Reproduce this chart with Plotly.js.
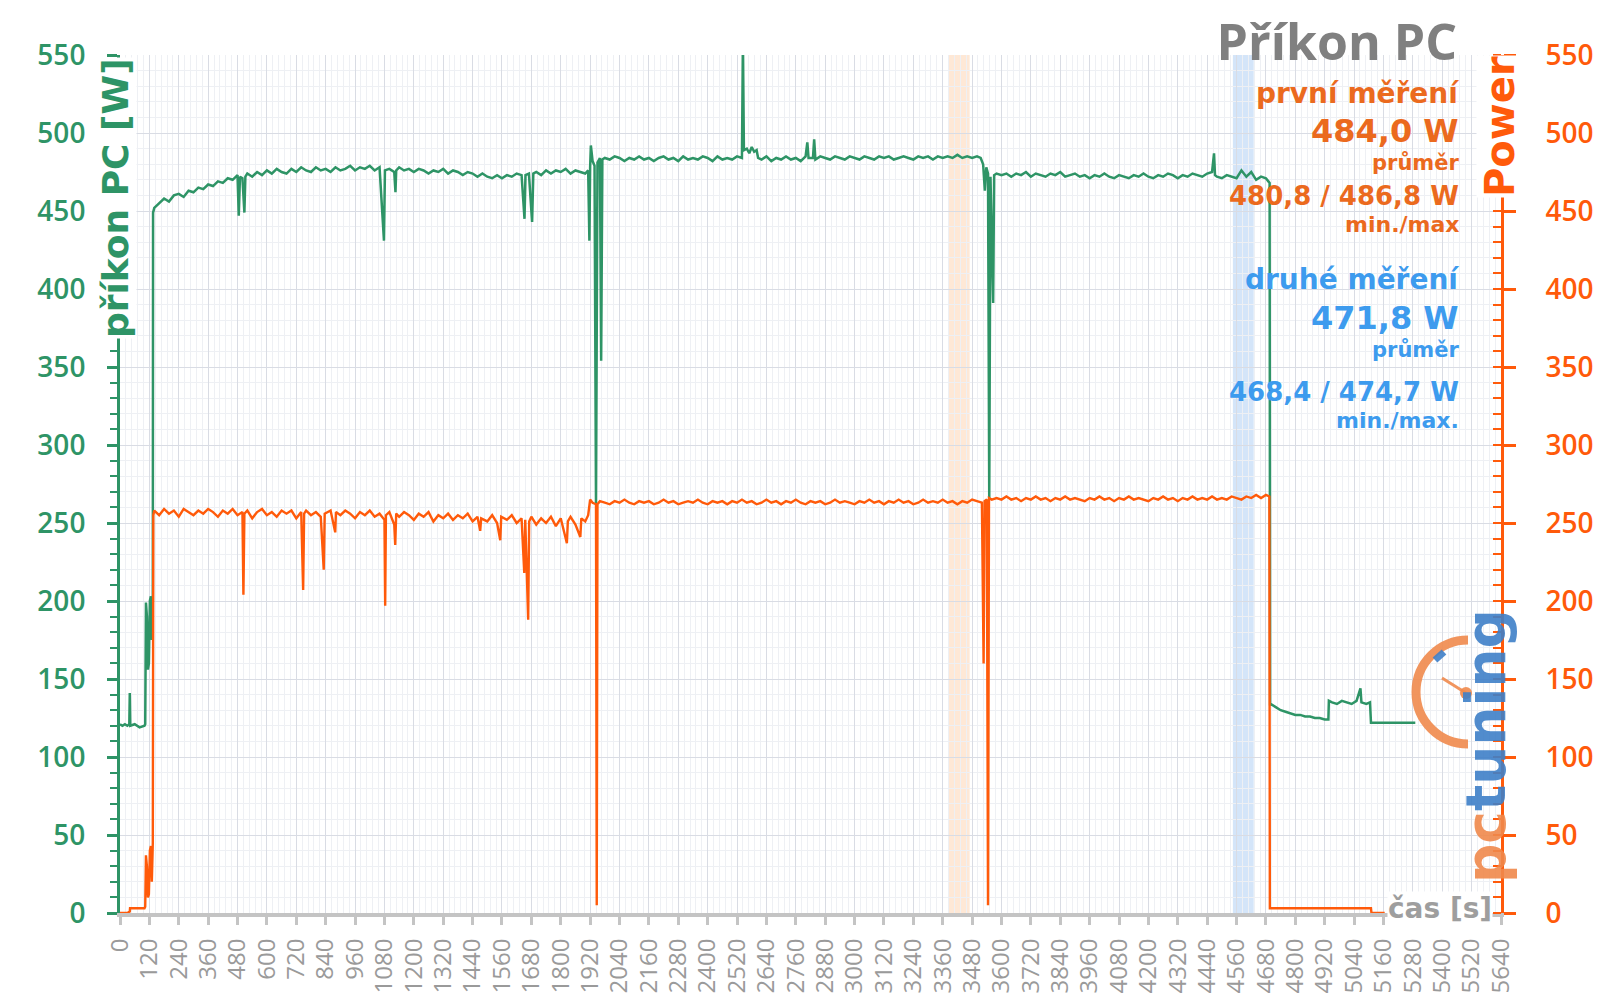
<!DOCTYPE html>
<html><head><meta charset="utf-8">
<script src="https://cdn.plot.ly/plotly-3.0.1.min.js"></script>
<style>html,body{margin:0;padding:0;background:#fff}#chart{width:1600px;height:1008px}</style>
</head><body><div id="chart"></div>
<script>
// ---- data: příkon PC (left axis, W) ----
const greenTime = [
  0,10,20,30,38,40,42,60,80,100,
  103,106,110,114,118,122,126,130,134,135,
  140,160,180,200,220,240,260,280,300,320,
  340,360,380,400,420,440,460,480,485,490,
  500,508,512,520,540,560,580,600,620,640,
  660,680,700,720,740,760,780,800,820,840,
  860,880,900,920,940,960,980,1000,1020,1040,
  1060,1078,1082,1100,1120,1125,1128,1140,1160,1180,
  1200,1220,1240,1260,1280,1300,1320,1340,1360,1380,
  1400,1420,1440,1460,1480,1500,1520,1540,1560,1580,
  1600,1620,1640,1652,1656,1670,1683,1688,1700,1720,
  1740,1760,1780,1800,1820,1840,1860,1880,1900,1912,
  1917,1920,1923,1930,1938,1944,1950,1960,1965,1970,
  1980,2000,2020,2040,2060,2080,2100,2120,2140,2160,
  2180,2200,2220,2240,2260,2280,2300,2320,2340,2360,
  2380,2400,2420,2440,2460,2480,2500,2520,2540,2544,
  2548,2560,2570,2580,2590,2600,2606,2620,2640,2660,
  2680,2700,2720,2740,2760,2780,2800,2807,2812,2830,
  2835,2840,2860,2880,2900,2920,2940,2960,2980,3000,
  3020,3040,3060,3080,3100,3120,3140,3160,3180,3200,
  3220,3240,3260,3280,3300,3320,3340,3360,3380,3400,
  3420,3440,3460,3480,3500,3515,3525,3532,3538,3545,
  3550,3555,3566,3570,3580,3600,3620,3640,3660,3680,
  3700,3720,3740,3760,3780,3800,3820,3840,3860,3880,
  3900,3920,3940,3960,3980,4000,4020,4040,4060,4080,
  4100,4120,4140,4160,4180,4200,4220,4240,4260,4280,
  4300,4320,4340,4360,4380,4400,4420,4440,4460,4468,
  4472,4480,4500,4520,4540,4560,4580,4600,4620,4640,
  4660,4680,4690,4695,4697,4700,4720,4740,4760,4780,
  4800,4820,4840,4860,4880,4900,4920,4935,4937,4950,
  4970,4990,5010,5030,5050,5066,5070,5090,5105,5109,
  5290
];
const greenPower = [
  121,120,121,120,121,141,120,121,119,120,
  121,199,190,156,160,200,203,175,200,449,
  452,455,458,456,460,461,459,463,462,465,
  464,467,466,469,468,471,470,473,447,472,
  471,449,472,474,472,475,473,476,474,477,
  475,474,477,475,478,476,475,478,476,477,
  475,478,476,477,479,476,478,477,479,476,
  478,431,476,477,475,462,476,478,476,477,
  475,477,476,474,476,475,477,474,476,475,
  473,475,474,472,474,472,471,473,471,473,
  472,474,473,445,473,474,443,474,475,473,
  476,474,476,475,477,474,476,475,474,476,
  431,478,492,482,479,262,481,484,354,483,
  484,483,485,484,482,484,483,485,483,484,
  482,484,485,483,484,482,485,483,484,483,
  485,484,482,485,483,484,483,485,484,560,
  489,490,487,491,488,489,484,483,485,482,
  484,483,485,483,484,482,485,494,484,484,
  496,483,485,484,483,485,484,483,485,484,
  483,485,484,483,485,484,485,483,484,485,
  484,483,485,484,485,483,485,484,485,484,
  486,484,485,484,485,484,480,463,478,474,
  265,472,391,473,474,473,474,472,474,473,
  475,472,474,473,472,474,473,475,472,473,
  474,472,473,471,473,472,474,472,471,473,
  472,471,473,472,474,472,471,473,472,474,
  473,471,473,472,474,473,472,474,475,487,
  473,472,471,473,472,471,476,472,475,470,
  472,471,469,468,133,134,132,130,129,128,
  127,127,126,126,125,125,124,124,136,135,
  134,136,135,134,136,144,135,134,135,122,
  122
];

// ---- data: Power (right axis, W) ----
const orangeTime = [
  0,30,40,41,60,80,100,103,106,110,
  114,118,122,126,130,134,136,140,160,180,
  200,220,240,260,280,300,320,340,360,380,
  400,420,440,460,480,500,504,508,520,540,
  560,580,600,620,640,660,680,700,720,740,
  748,752,760,780,800,820,832,836,860,879,
  882,900,920,940,960,980,1000,1020,1040,1060,
  1080,1083,1086,1100,1120,1124,1128,1140,1160,1180,
  1200,1220,1240,1260,1280,1300,1320,1340,1360,1380,
  1400,1420,1440,1460,1471,1475,1500,1520,1540,1553,
  1557,1580,1600,1620,1640,1651,1655,1667,1671,1680,
  1700,1720,1740,1760,1780,1800,1825,1829,1840,1860,
  1880,1884,1900,1912,1920,1930,1944,1947,1950,1960,
  1980,2000,2020,2040,2060,2080,2100,2120,2140,2160,
  2180,2200,2220,2240,2260,2280,2300,2320,2340,2360,
  2380,2400,2420,2440,2460,2480,2500,2520,2540,2560,
  2580,2600,2620,2640,2660,2680,2700,2720,2740,2760,
  2780,2800,2820,2840,2860,2880,2900,2920,2940,2960,
  2980,3000,3020,3040,3060,3080,3100,3120,3140,3160,
  3180,3200,3220,3240,3260,3280,3300,3320,3340,3360,
  3380,3400,3420,3440,3460,3480,3500,3520,3527,3531,
  3540,3545,3549,3560,3580,3600,3620,3640,3660,3680,
  3700,3720,3740,3760,3780,3800,3820,3840,3860,3880,
  3900,3920,3940,3960,3980,4000,4020,4040,4060,4080,
  4100,4120,4140,4160,4180,4200,4220,4240,4260,4280,
  4300,4320,4340,4360,4380,4400,4420,4440,4460,4480,
  4500,4520,4540,4560,4580,4600,4620,4640,4660,4680,
  4694,4696,4720,4800,4900,5000,5109,5111,5165
];
const orangePower = [
  0,0,1,3,3,3,3,4,37,30,
  10,12,40,43,20,45,255,258,255,259,
  256,258,254,259,257,255,258,256,259,257,
  254,258,256,259,255,257,204,256,258,253,
  257,259,255,257,254,258,256,258,253,257,
  207,256,258,255,257,254,220,256,258,244,
  257,255,258,256,253,257,255,258,254,256,
  252,197,255,257,249,236,256,254,257,255,
  252,256,254,257,251,255,253,256,252,255,
  253,256,251,254,245,253,251,255,250,239,
  254,252,255,250,253,218,252,188,251,254,
  249,253,250,254,248,253,237,251,254,249,
  241,253,251,255,265,263,262,5,262,264,
  263,262,264,263,265,263,262,264,263,264,
  262,263,265,263,264,262,263,264,263,265,
  263,262,264,263,264,262,264,263,265,263,
  264,262,263,265,263,264,262,264,263,265,
  263,262,264,263,264,262,263,265,263,264,
  263,262,264,263,265,263,264,262,264,263,
  265,263,264,262,263,265,263,264,263,265,
  263,264,262,264,263,265,264,263,160,264,
  265,5,266,265,266,265,267,265,266,264,
  266,265,267,265,266,264,266,265,267,265,
  266,265,264,266,265,267,265,266,264,266,
  265,267,265,266,265,264,266,265,267,265,
  266,264,266,265,267,265,266,265,267,265,
  266,265,267,266,265,267,266,268,266,268,
  267,3,3,3,3,3,3,0,0
];

// highlighted intervals (s)
const bandStart = [3385, 4545];
const bandEnd   = [3470, 4630];

// text blocks
const chartTitle = 'Příkon PC';
const leftAxisTitle = 'příkon PC [W]';
const rightAxisTitle = 'Power';
const xAxisTitle = 'čas [s]';
const firstRunTexts  = ['první měření', '484,0 W', 'průměr', '480,8 / 486,8 W', 'min./max'];
const secondRunTexts = ['druhé měření', '471,8 W', 'průměr', '468,4 / 474,7 W', 'min./max.'];

// ---- styles ----
const GREEN = '#2e9466';
const ORANGE = '#ff5a0a';
const ORANGE_TXT = '#eb6a1e';
const BLUE_TXT = '#3d9bee';
const GRID = '#d9dce4';
const GRID_MINOR = '#eef0f4';
const FONT = 'Open Sans, sans-serif';
const TFONT = 'DejaVu Sans, sans-serif';

const traces = [
  {x: greenTime, y: greenPower, type: 'scatter', mode: 'lines', yaxis: 'y',
   line: {color: GREEN, width: 2.5}, hoverinfo: 'skip'},
  {x: orangeTime, y: orangePower, type: 'scatter', mode: 'lines', yaxis: 'y2',
   line: {color: ORANGE, width: 2.4}, hoverinfo: 'skip'}
];

// paper helpers from pixel positions (plot area 120..1501 x 55..913)
const PX = p => (p - 120) / 1381;
const PY = p => (913 - p) / 858;

const firstSizes  = [28, 32, 21, 26, 22];
const secondSizes = [28, 32, 21, 26, 22];
const firstY  = [94, 131, 163, 196, 224];
const secondY = [280, 318, 350, 392, 420];

const annotations = [];
firstRunTexts.forEach((t, i) => annotations.push({
  text: t, xref: 'paper', yref: 'paper', x: PX(1460), y: PY(firstY[i]),
  xanchor: 'right', yanchor: 'middle', showarrow: false, borderpad: 0,
  font: {family: TFONT, size: firstSizes[i], color: ORANGE_TXT, weight: 700}
}));
secondRunTexts.forEach((t, i) => annotations.push({
  text: t, xref: 'paper', yref: 'paper', x: PX(1460), y: PY(secondY[i]),
  xanchor: 'right', yanchor: 'middle', showarrow: false, borderpad: 0,
  font: {family: TFONT, size: secondSizes[i], color: BLUE_TXT, weight: 700}
}));
annotations.push({
  text: leftAxisTitle, xref: 'paper', yref: 'paper', x: PX(116), y: PY(198),
  textangle: -90, xanchor: 'center', yanchor: 'middle', showarrow: false,
  bgcolor: '#ffffff', borderpad: 0,
  font: {family: TFONT, size: 36, color: GREEN, weight: 700}
});
annotations.push({
  text: rightAxisTitle, xref: 'paper', yref: 'paper', x: PX(1500), y: PY(127),
  textangle: -90, xanchor: 'center', yanchor: 'middle', showarrow: false,
  bgcolor: '#ffffff', borderpad: 0,
  font: {family: TFONT, size: 40, color: ORANGE, weight: 700}
});
annotations.push({
  text: xAxisTitle, xref: 'paper', yref: 'paper', x: PX(1440), y: PY(908),
  xanchor: 'center', yanchor: 'middle', showarrow: false,
  bgcolor: '#ffffff', borderpad: 0,
  font: {family: TFONT, size: 28, color: '#9e9e9e', weight: 700}
});
// watermark logo text
annotations.push({
  text: '<span style="color:#f0894c">pc</span><span style="color:#3f80c8">tuning</span>',
  xref: 'paper', yref: 'paper', x: PX(1486), y: PY(746),
  textangle: -90, xanchor: 'center', yanchor: 'middle', showarrow: false, opacity: 0.9,
  borderpad: 0,
  font: {family: TFONT, size: 55, weight: 700}
});

const shapes = bandStart.map((s, i) => ({
  type: 'rect', xref: 'x', yref: 'paper', x0: s, x1: bandEnd[i], y0: 0, y1: 1,
  fillcolor: i === 0 ? 'rgba(252,205,165,0.45)' : 'rgba(160,198,242,0.45)',
  line: {width: 0}, layer: 'below'
}));
// watermark gauge
shapes.push({
  type: 'path', xref: 'paper', yref: 'paper',
  path: `M ${PX(1468)},${PY(640)} C ${PX(1439.3)},${PY(640)} ${PX(1416)},${PY(663.3)} ${PX(1416)},${PY(692)} C ${PX(1416)},${PY(720.7)} ${PX(1439.3)},${PY(744)} ${PX(1468)},${PY(744)}`,
  line: {color: 'rgba(240,137,76,0.9)', width: 9}
});
shapes.push({
  type: 'line', xref: 'paper', yref: 'paper',
  x0: PX(1435), y0: PY(660), x1: PX(1444), y1: PY(652),
  line: {color: 'rgba(63,128,200,0.9)', width: 7}
});
shapes.push({
  type: 'line', xref: 'paper', yref: 'paper',
  x0: PX(1466), y0: PY(693), x1: PX(1442), y1: PY(678),
  line: {color: 'rgba(240,137,76,0.9)', width: 3}
});
shapes.push({
  type: 'circle', xref: 'paper', yref: 'paper',
  x0: PX(1460), y0: PY(699), x1: PX(1472), y1: PY(687),
  fillcolor: 'rgba(240,137,76,0.9)', line: {width: 0}
});

const layout = {
  width: 1600, height: 1008,
  margin: {l: 120, r: 99, t: 55, b: 95},
  paper_bgcolor: '#ffffff', plot_bgcolor: '#ffffff',
  showlegend: false, hovermode: false,
  font: {family: FONT},
  title: {text: chartTitle, xref: 'paper', x: PX(1457), xanchor: 'right',
          yref: 'container', y: 1 - 42 / 1008, yanchor: 'middle',
          font: {family: FONT, size: 50, color: '#808080', weight: 700}},
  xaxis: {
    range: [0, 5640], tick0: 0, dtick: 120, tickangle: -90,
    ticks: 'outside', ticklen: 8, tickwidth: 3, tickcolor: '#c4c4c4',
    showline: true, linecolor: '#c4c4c4', linewidth: 4,
    showgrid: true, gridcolor: GRID, gridwidth: 1,
    minor: {dtick: 24, showgrid: true, gridcolor: GRID_MINOR, gridwidth: 1},
    zeroline: false, fixedrange: true, ticklabelstandoff: 4,
    tickfont: {family: FONT, size: 24, color: '#9a9a9a'}
  },
  yaxis: {
    range: [0, 550], tick0: 0, dtick: 50,
    ticks: 'outside', ticklen: 10, tickwidth: 3, tickcolor: GREEN,
    showline: true, linecolor: GREEN, linewidth: 3,
    showgrid: true, gridcolor: GRID, gridwidth: 1,
    minor: {dtick: 10, ticks: 'outside', ticklen: 7, tickwidth: 2, tickcolor: GREEN,
            showgrid: true, gridcolor: GRID_MINOR},
    zeroline: false, fixedrange: true, ticklabelstandoff: 16,
    tickfont: {family: FONT, size: 28, color: GREEN, weight: 600}
  },
  yaxis2: {
    overlaying: 'y', side: 'right', range: [0, 550], tick0: 0, dtick: 50,
    ticks: 'outside', ticklen: 12, tickwidth: 3, tickcolor: ORANGE,
    showline: true, linecolor: ORANGE, linewidth: 3, showgrid: false,
    minor: {dtick: 10, ticks: 'inside', ticklen: 8, tickwidth: 2, tickcolor: ORANGE},
    zeroline: false, fixedrange: true, ticklabelstandoff: 24,
    tickfont: {family: FONT, size: 28, color: ORANGE, weight: 600}
  },
  yaxis3: {
    overlaying: 'y', side: 'left', range: [0, 550], tick0: 0, dtick: 50,
    ticks: 'inside', ticklen: 10, tickwidth: 3, tickcolor: GREEN,
    showticklabels: false, showgrid: false, showline: false, zeroline: false
  },
  yaxis4: {
    overlaying: 'y', side: 'right', range: [0, 550], tick0: 0, dtick: 50,
    ticks: 'inside', ticklen: 12, tickwidth: 3, tickcolor: ORANGE,
    showticklabels: false, showgrid: false, showline: false, zeroline: false
  },
  shapes: shapes,
  annotations: annotations
};

Plotly.newPlot('chart', traces, layout, {displayModeBar: false, staticPlot: true});
</script>
</body></html>
